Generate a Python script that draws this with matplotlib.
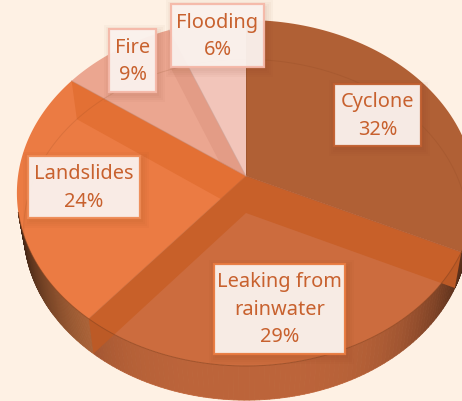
import numpy as np
import matplotlib
matplotlib.use('Agg')
import matplotlib.pyplot as plt
from matplotlib.collections import PolyCollection
from matplotlib.patches import Polygon, Rectangle

# values, clockwise from 12 o'clock
categories = ['Cyclone', 'Leaking from\nrainwater', 'Landslides', 'Fire', 'Flooding']
shares = [32, 29, 24, 9, 6]

top_colors = ['#B06035', '#CC6C3E', '#EB7B43', '#EBA690', '#F2C5BA']
wall_colors = ['#C86029', '#C86029', '#E37034', '#E39C86']
side_colors = ['#C86C40', '#C86C40', '#D67F4A', '#E0A088', '#E8B8A8']
edge_colors = ['#C05F30', '#E87A40', '#EE8A55', '#F5B8A8', '#F5B8A8']
text_color = '#C8612E'
bg = '#FEF1E4'

# label boxes: left, top, right, bottom in pixels
label_boxes = [(334, 84, 421, 146), (214, 264, 345, 354), (28, 156, 140, 218),
               (109, 29, 156, 92), (171, 4, 264, 67)]

# pie geometry in pixels
cx, cy = 246, 176
rx, ry, persp = 228, 171.3, 0.0983
depth = 37
low_sx, low_sy = 0.97, 0.985  # bottom face is a bit smaller than the top
front_from, front_to = np.deg2rad(102), np.deg2rad(258)  # part of the side that shows


def rim(theta, lower=False):
    u, v = np.sin(theta), np.cos(theta)
    w = 1 + persp * v
    if lower:
        return np.column_stack([cx + low_sx * rx * u / w, cy + depth - low_sy * ry * v / w])
    return np.column_stack([cx + rx * u / w, cy - ry * v / w])


def shade(col, f):
    return tuple(np.array(matplotlib.colors.to_rgb(col)) * f)


fig = plt.figure(figsize=(4.62, 4.01), dpi=100, facecolor=bg)
ax = fig.add_axes([0, 0, 1, 1])
ax.set_xlim(0, 462)
ax.set_ylim(401, 0)
ax.axis('off')

bounds = np.deg2rad(np.cumsum([0] + shares) * 3.6)

# outer side, broken in thin strips so the shading can follow the rim
quads, colors = [], []
for i in range(len(shares)):
    start, stop = max(bounds[i], front_from), min(bounds[i + 1], front_to)
    if start >= stop:
        continue
    t = np.linspace(start, stop, int(shares[i] * 3) + 2)
    up, low = rim(t), rim(t, lower=True)
    for j in range(len(t) - 1):
        quads.append([up[j], up[j + 1], low[j + 1], low[j]])
        off = abs(up[j][0] - cx) / rx
        colors.append(shade(side_colors[i], 1 - 0.7 * off ** 4))
ax.add_collection(PolyCollection(quads, facecolors=colors, edgecolors=colors, linewidths=0.6, zorder=1))

# top faces
for i in range(len(shares)):
    t = np.linspace(bounds[i], bounds[i + 1], 80)
    pts = np.vstack([[cx, cy], rim(t)])
    ax.add_patch(Polygon(pts, closed=True, fc=top_colors[i], ec='none', zorder=2))

# inner walls seen through the top, lowest slice last
for i in [3, 2, 1, 0]:
    p = rim(bounds[[i + 1]])[0]
    q = rim(bounds[[i + 1]], lower=True)[0]
    pts = [[cx, cy], p, q, [cx, cy + depth]]
    ax.add_patch(Polygon(pts, closed=True, fc=wall_colors[i], ec='none', zorder=3))

# front band darkens the walls where they pass under the rim
t = np.linspace(front_from, front_to, 200)
band = np.vstack([rim(t), rim(t[::-1], lower=True)])
ax.add_patch(Polygon(band, closed=True, fc='#7A3A18', ec='none', alpha=0.15, zorder=3.5))

# slice edges and the rims
for i in range(len(shares)):
    p = rim(bounds[[i]])[0]
    ax.plot([cx, p[0]], [cy, p[1]], color=shade(top_colors[i], 0.85), lw=0.6, alpha=0.7, zorder=4)
t = np.linspace(0, 2 * np.pi, 400)
t = t[(t < front_from) | (t > front_to)]
t = np.concatenate([t[t > front_to], t[t < front_from]])
low = rim(t, lower=True)
ax.plot(low[:, 0], low[:, 1], color='#7A3A18', lw=0.7, alpha=0.15, zorder=4)
t = np.linspace(front_from, front_to, 200)
up = rim(t)
ax.plot(up[:, 0], up[:, 1], color='#8A4520', lw=0.7, alpha=0.6, zorder=4)

# label boxes with a soft shadow
for name, share, box, ec in zip(categories, shares, label_boxes, edge_colors):
    x0, y0, x1, y1 = box
    for grow in [7, 5, 3, 1]:
        ax.add_patch(Rectangle((x0 - grow + 2, y0 - grow + 3), x1 - x0 + 2 * grow, y1 - y0 + 2 * grow,
                               fc='#7A3A18', ec='none', alpha=0.03, zorder=5))
    ax.add_patch(Rectangle((x0, y0), x1 - x0, y1 - y0, fc='#FBF3EF', ec=ec, lw=1.6, alpha=0.95, zorder=6))
    ax.text((x0 + x1) / 2, (y0 + y1) / 2 + 1, f'{name}\n{share}%', ha='center', va='center',
            fontsize=14.4, family='Noto Sans', color=text_color, linespacing=1.5, zorder=7)

fig.savefig('out.png', dpi=100, facecolor=bg)
